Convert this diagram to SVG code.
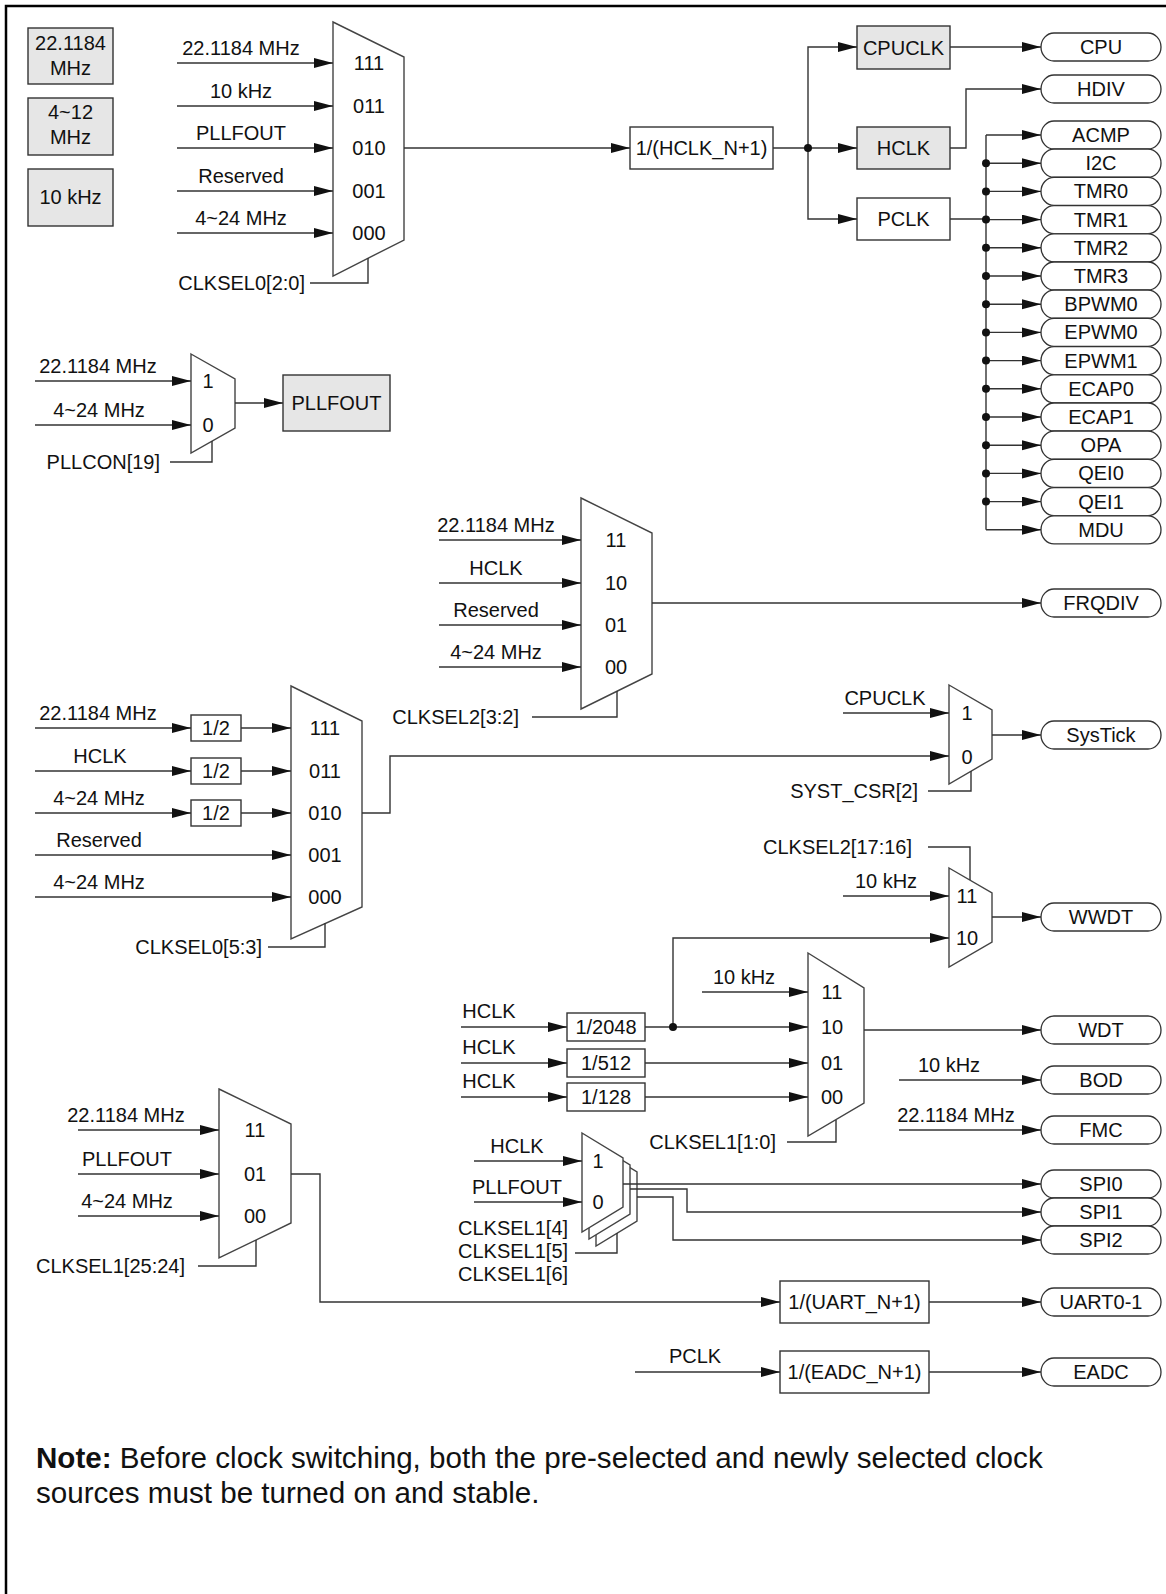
<svg xmlns="http://www.w3.org/2000/svg" width="1166" height="1594" viewBox="0 0 1166 1594">
<style>
.t{font-family:"Liberation Sans",Arial,sans-serif;font-size:20px;fill:#111}
.c{text-anchor:middle}
.e{text-anchor:end}
.w{fill:none;stroke:#333;stroke-width:1.4}
.a{marker-end:url(#arr)}
.box{fill:#fff;stroke:#333;stroke-width:1.4}
.g{fill:#e6e6e6;stroke:#333;stroke-width:1.4}
.mux{fill:#fff;stroke:#444;stroke-width:1.4}
.pill{fill:#fff;stroke:#333;stroke-width:1.3}
.dot{fill:#111}
.note{font-family:"Liberation Sans",Arial,sans-serif;font-size:29.6px;fill:#111}
</style>
<defs>
<marker id="arr" markerUnits="userSpaceOnUse" markerWidth="20" markerHeight="12" refX="19" refY="5" orient="auto"><path d="M0,0 L19,5 L0,10 z" fill="#111"/></marker>
</defs>
<rect x="0" y="0" width="1166" height="1594" fill="#fff"/>
<rect x="6" y="6" width="1200" height="1700" fill="none" stroke="#000" stroke-width="2.5"/>

<!-- source boxes -->
<g id="src-22m"><rect class="g" x="28" y="28" width="85" height="56"/><text class="t c" x="70.5" y="50">22.1184</text><text class="t c" x="70.5" y="75">MHz</text></g>
<g id="src-4-12m"><rect class="g" x="28" y="98" width="85" height="57"/><text class="t c" x="70.5" y="119">4~12</text><text class="t c" x="70.5" y="144">MHz</text></g>
<g id="src-10k"><rect class="g" x="28" y="169" width="85" height="57"/><text class="t c" x="70.5" y="204">10 kHz</text></g>

<!-- mux CLKSEL0[2:0] -->
<g id="mux-hclk"><path class="mux" d="M333 22L404 57V240L333 276Z"/>
<text class="t c" x="369" y="70">111</text><text class="t c" x="369" y="113">011</text><text class="t c" x="369" y="155">010</text><text class="t c" x="369" y="198">001</text><text class="t c" x="369" y="240">000</text>
<text class="t c" x="241" y="55">22.1184 MHz</text><text class="t c" x="241" y="98">10 kHz</text><text class="t c" x="241" y="140">PLLFOUT</text><text class="t c" x="241" y="183">Reserved</text><text class="t c" x="241" y="225">4~24 MHz</text>
<text class="t e" x="305" y="290">CLKSEL0[2:0]</text></g>

<g id="div-hclk"><rect class="box" x="630" y="127" width="143" height="42"/><text class="t c" x="701.5" y="155">1/(HCLK_N+1)</text></g>
<g id="cpuclk"><rect class="g" x="857" y="26" width="93" height="43"/><text class="t c" x="903.5" y="55">CPUCLK</text></g>
<g id="hclk"><rect class="g" x="857" y="127" width="93" height="42"/><text class="t c" x="903.5" y="155">HCLK</text></g>
<g id="pclk"><rect class="box" x="857" y="198" width="93" height="42"/><text class="t c" x="903.5" y="226">PCLK</text></g>

<!-- pills -->
<g id="p-cpu"><rect class="pill" x="1041" y="33" width="120" height="28" rx="13" ry="14"/><text class="t c" x="1101" y="54">CPU</text></g>
<g id="p-hdiv"><rect class="pill" x="1041" y="75" width="120" height="28" rx="13" ry="14"/><text class="t c" x="1101" y="96">HDIV</text></g>
<g id="p-acmp"><rect class="pill" x="1041" y="121" width="120" height="28" rx="13" ry="14"/><text class="t c" x="1101" y="142">ACMP</text></g>
<g id="p-i2c"><rect class="pill" x="1041" y="149.2" width="120" height="28" rx="13" ry="14"/><text class="t c" x="1101" y="170.2">I2C</text></g>
<g id="p-tmr0"><rect class="pill" x="1041" y="177.4" width="120" height="28" rx="13" ry="14"/><text class="t c" x="1101" y="198.4">TMR0</text></g>
<g id="p-tmr1"><rect class="pill" x="1041" y="205.6" width="120" height="28" rx="13" ry="14"/><text class="t c" x="1101" y="226.6">TMR1</text></g>
<g id="p-tmr2"><rect class="pill" x="1041" y="233.8" width="120" height="28" rx="13" ry="14"/><text class="t c" x="1101" y="254.8">TMR2</text></g>
<g id="p-tmr3"><rect class="pill" x="1041" y="262" width="120" height="28" rx="13" ry="14"/><text class="t c" x="1101" y="283">TMR3</text></g>
<g id="p-bpwm0"><rect class="pill" x="1041" y="290.2" width="120" height="28" rx="13" ry="14"/><text class="t c" x="1101" y="311.2">BPWM0</text></g>
<g id="p-epwm0"><rect class="pill" x="1041" y="318.4" width="120" height="28" rx="13" ry="14"/><text class="t c" x="1101" y="339.4">EPWM0</text></g>
<g id="p-epwm1"><rect class="pill" x="1041" y="346.6" width="120" height="28" rx="13" ry="14"/><text class="t c" x="1101" y="367.6">EPWM1</text></g>
<g id="p-ecap0"><rect class="pill" x="1041" y="374.8" width="120" height="28" rx="13" ry="14"/><text class="t c" x="1101" y="395.8">ECAP0</text></g>
<g id="p-ecap1"><rect class="pill" x="1041" y="403" width="120" height="28" rx="13" ry="14"/><text class="t c" x="1101" y="424">ECAP1</text></g>
<g id="p-opa"><rect class="pill" x="1041" y="431.2" width="120" height="28" rx="13" ry="14"/><text class="t c" x="1101" y="452.2">OPA</text></g>
<g id="p-qei0"><rect class="pill" x="1041" y="459.4" width="120" height="28" rx="13" ry="14"/><text class="t c" x="1101" y="480.4">QEI0</text></g>
<g id="p-qei1"><rect class="pill" x="1041" y="487.6" width="120" height="28" rx="13" ry="14"/><text class="t c" x="1101" y="508.6">QEI1</text></g>
<g id="p-mdu"><rect class="pill" x="1041" y="515.8" width="120" height="28" rx="13" ry="14"/><text class="t c" x="1101" y="536.8">MDU</text></g>
<g id="p-frqdiv"><rect class="pill" x="1041" y="589" width="120" height="28" rx="13" ry="14"/><text class="t c" x="1101" y="610">FRQDIV</text></g>
<g id="p-systick"><rect class="pill" x="1041" y="721" width="120" height="28" rx="13" ry="14"/><text class="t c" x="1101" y="742">SysTick</text></g>
<g id="p-wwdt"><rect class="pill" x="1041" y="903" width="120" height="28" rx="13" ry="14"/><text class="t c" x="1101" y="924">WWDT</text></g>
<g id="p-wdt"><rect class="pill" x="1041" y="1016" width="120" height="28" rx="13" ry="14"/><text class="t c" x="1101" y="1037">WDT</text></g>
<g id="p-bod"><rect class="pill" x="1041" y="1066" width="120" height="28" rx="13" ry="14"/><text class="t c" x="1101" y="1087">BOD</text></g>
<g id="p-fmc"><rect class="pill" x="1041" y="1116" width="120" height="28" rx="13" ry="14"/><text class="t c" x="1101" y="1137">FMC</text></g>
<g id="p-spi0"><rect class="pill" x="1041" y="1170" width="120" height="28" rx="13" ry="14"/><text class="t c" x="1101" y="1191">SPI0</text></g>
<g id="p-spi1"><rect class="pill" x="1041" y="1198" width="120" height="28" rx="13" ry="14"/><text class="t c" x="1101" y="1219">SPI1</text></g>
<g id="p-spi2"><rect class="pill" x="1041" y="1226" width="120" height="28" rx="13" ry="14"/><text class="t c" x="1101" y="1247">SPI2</text></g>
<g id="p-uart"><rect class="pill" x="1041" y="1288" width="120" height="28" rx="13" ry="14"/><text class="t c" x="1101" y="1309">UART0-1</text></g>
<g id="p-eadc"><rect class="pill" x="1041" y="1358" width="120" height="28" rx="13" ry="14"/><text class="t c" x="1101" y="1379">EADC</text></g>

<!-- PLL mux -->
<g id="mux-pll"><path class="mux" d="M191 354L235 379V428L191 453Z"/>
<text class="t c" x="208" y="388">1</text><text class="t c" x="208" y="432">0</text>
<text class="t c" x="98" y="373">22.1184 MHz</text><text class="t c" x="99" y="417">4~24 MHz</text>
<text class="t e" x="160" y="469">PLLCON[19]</text></g>
<g id="pllfout"><rect class="g" x="283" y="375" width="107" height="56"/><text class="t c" x="336.5" y="410">PLLFOUT</text></g>

<!-- FRQDIV mux -->
<g id="mux-frqdiv"><path class="mux" d="M581 498L652 533V674L581 709Z"/>
<text class="t c" x="616" y="547">11</text><text class="t c" x="616" y="590">10</text><text class="t c" x="616" y="632">01</text><text class="t c" x="616" y="674">00</text>
<text class="t c" x="496" y="532">22.1184 MHz</text><text class="t c" x="496" y="575">HCLK</text><text class="t c" x="496" y="617">Reserved</text><text class="t c" x="496" y="659">4~24 MHz</text>
<text class="t e" x="519" y="724">CLKSEL2[3:2]</text></g>

<!-- SysTick source mux -->
<g id="mux-stclk"><path class="mux" d="M291 686L362 721V907L291 939Z"/>
<text class="t c" x="325" y="735">111</text><text class="t c" x="325" y="778">011</text><text class="t c" x="325" y="820">010</text><text class="t c" x="325" y="862">001</text><text class="t c" x="325" y="904">000</text>
<text class="t c" x="98" y="720">22.1184 MHz</text><text class="t c" x="100" y="763">HCLK</text><text class="t c" x="99" y="805">4~24 MHz</text><text class="t c" x="99" y="847">Reserved</text><text class="t c" x="99" y="889">4~24 MHz</text>
<text class="t e" x="262" y="954">CLKSEL0[5:3]</text></g>
<g id="div2a"><rect class="box" x="191" y="715" width="50" height="26"/><text class="t c" x="216" y="735">1/2</text></g>
<g id="div2b"><rect class="box" x="191" y="758" width="50" height="26"/><text class="t c" x="216" y="778">1/2</text></g>
<g id="div2c"><rect class="box" x="191" y="800" width="50" height="26"/><text class="t c" x="216" y="820">1/2</text></g>

<g id="mux-systick"><path class="mux" d="M949 685L992 710V759L949 784Z"/>
<text class="t c" x="967" y="720">1</text><text class="t c" x="967" y="764">0</text>
<text class="t c" x="885" y="705">CPUCLK</text>
<text class="t e" x="918" y="798">SYST_CSR[2]</text></g>

<g id="mux-wwdt"><path class="mux" d="M949 868L992 893V942L949 967Z"/>
<text class="t c" x="967" y="903">11</text><text class="t c" x="967" y="945">10</text>
<text class="t c" x="886" y="888">10 kHz</text>
<text class="t e" x="912" y="854">CLKSEL2[17:16]</text></g>

<g id="mux-wdt"><path class="mux" d="M808 953L864 988V1103L808 1136Z"/>
<text class="t c" x="832" y="999">11</text><text class="t c" x="832" y="1034">10</text><text class="t c" x="832" y="1070">01</text><text class="t c" x="832" y="1104">00</text>
<text class="t c" x="744" y="984">10 kHz</text>
<text class="t c" x="489" y="1018">HCLK</text><text class="t c" x="489" y="1054">HCLK</text><text class="t c" x="489" y="1088">HCLK</text>
<text class="t e" x="776" y="1149">CLKSEL1[1:0]</text></g>
<g id="div2048"><rect class="box" x="567" y="1013" width="78" height="28"/><text class="t c" x="606" y="1034">1/2048</text></g>
<g id="div512"><rect class="box" x="567" y="1049" width="78" height="28"/><text class="t c" x="606" y="1070">1/512</text></g>
<g id="div128"><rect class="box" x="567" y="1083" width="78" height="28"/><text class="t c" x="606" y="1104">1/128</text></g>

<g id="bod-fmc-labels"><text class="t c" x="949" y="1072">10 kHz</text><text class="t c" x="956" y="1122">22.1184 MHz</text></g>

<g id="mux-spi">
<path class="mux" d="M596 1147L637 1172V1221L596 1246Z"/>
<path class="mux" d="M589 1140L630 1165V1214L589 1239Z"/>
<path class="mux" d="M582 1133L623 1158V1207L582 1232Z"/>
<text class="t c" x="598" y="1168">1</text><text class="t c" x="598" y="1209">0</text>
<text class="t c" x="517" y="1153">HCLK</text><text class="t c" x="517" y="1194">PLLFOUT</text>
<text class="t" x="458" y="1235">CLKSEL1[4]</text><text class="t" x="458" y="1258">CLKSEL1[5]</text><text class="t" x="458" y="1281">CLKSEL1[6]</text></g>

<g id="mux-uart"><path class="mux" d="M219 1089L291 1124V1223L219 1258Z"/>
<text class="t c" x="255" y="1137">11</text><text class="t c" x="255" y="1181">01</text><text class="t c" x="255" y="1223">00</text>
<text class="t c" x="126" y="1122">22.1184 MHz</text><text class="t c" x="127" y="1166">PLLFOUT</text><text class="t c" x="127" y="1208">4~24 MHz</text>
<text class="t e" x="185" y="1273">CLKSEL1[25:24]</text></g>
<g id="div-uart"><rect class="box" x="780" y="1281" width="149" height="42"/><text class="t c" x="854.5" y="1309">1/(UART_N+1)</text></g>
<g id="div-eadc"><rect class="box" x="780" y="1351" width="149" height="42"/><text class="t c" x="854.5" y="1379">1/(EADC_N+1)</text><text class="t c" x="695" y="1363">PCLK</text></g>

<!-- connectors -->
<g id="connectors">
<path class="w a" d="M177 63H333"/><path class="w a" d="M177 106H333"/><path class="w a" d="M177 148H333"/><path class="w a" d="M177 191H333"/><path class="w a" d="M177 233H333"/>
<path class="w" d="M310 283H368V258"/>
<path class="w a" d="M404 148H630"/>
<path class="w" d="M773 148H808"/>
<path class="w a" d="M808 148V47H857"/><path class="w a" d="M808 148H857"/><path class="w a" d="M808 148V219H857"/>
<path class="w a" d="M950 47H1041"/>
<path class="w a" d="M950 148H966V89H1041"/>
<path class="w" d="M950 219H986"/>
<path class="w" d="M986 135V529.8"/>
<path class="w a" d="M986 135H1041"/><path class="w a" d="M986 163.2H1041"/><path class="w a" d="M986 191.4H1041"/><path class="w a" d="M986 219.6H1041"/><path class="w a" d="M986 247.8H1041"/><path class="w a" d="M986 276H1041"/><path class="w a" d="M986 304.2H1041"/><path class="w a" d="M986 332.4H1041"/><path class="w a" d="M986 360.6H1041"/><path class="w a" d="M986 388.8H1041"/><path class="w a" d="M986 417H1041"/><path class="w a" d="M986 445.2H1041"/><path class="w a" d="M986 473.4H1041"/><path class="w a" d="M986 501.6H1041"/><path class="w a" d="M986 529.8H1041"/>
<circle class="dot" cx="808" cy="148" r="4"/>
<circle class="dot" cx="986" cy="163.2" r="4"/><circle class="dot" cx="986" cy="191.4" r="4"/><circle class="dot" cx="986" cy="219.6" r="4"/><circle class="dot" cx="986" cy="247.8" r="4"/><circle class="dot" cx="986" cy="276" r="4"/><circle class="dot" cx="986" cy="304.2" r="4"/><circle class="dot" cx="986" cy="332.4" r="4"/><circle class="dot" cx="986" cy="360.6" r="4"/><circle class="dot" cx="986" cy="388.8" r="4"/><circle class="dot" cx="986" cy="417" r="4"/><circle class="dot" cx="986" cy="445.2" r="4"/><circle class="dot" cx="986" cy="473.4" r="4"/><circle class="dot" cx="986" cy="501.6" r="4"/>

<path class="w a" d="M35 381H191"/><path class="w a" d="M35 425H191"/>
<path class="w a" d="M235 403H283"/>
<path class="w" d="M170 462H212V441"/>

<path class="w a" d="M439 540H581"/><path class="w a" d="M439 583H581"/><path class="w a" d="M439 625H581"/><path class="w a" d="M439 667H581"/>
<path class="w a" d="M652 603H1041"/>
<path class="w" d="M532 717H617V691"/>

<path class="w a" d="M35 728H191"/><path class="w a" d="M241 728H291"/>
<path class="w a" d="M35 771H191"/><path class="w a" d="M241 771H291"/>
<path class="w a" d="M35 813H191"/><path class="w a" d="M241 813H291"/>
<path class="w a" d="M35 855H291"/><path class="w a" d="M35 897H291"/>
<path class="w a" d="M362 813H390V756H949"/>
<path class="w" d="M268 947H325V923"/>

<path class="w a" d="M843 713H949"/>
<path class="w a" d="M992 735H1041"/>
<path class="w" d="M928 791H971V771"/>

<path class="w a" d="M843 896H949"/>
<path class="w a" d="M673 1027V938H949"/>
<path class="w a" d="M992 917H1041"/>
<path class="w" d="M928 847H970V880"/>

<path class="w a" d="M702 992H808"/>
<path class="w a" d="M461 1027H567"/><path class="w a" d="M645 1027H808"/>
<path class="w a" d="M461 1063H567"/><path class="w a" d="M645 1063H808"/>
<path class="w a" d="M461 1097H567"/><path class="w a" d="M645 1097H808"/>
<circle class="dot" cx="673" cy="1027" r="4"/>
<path class="w a" d="M864 1030H1041"/>
<path class="w" d="M787 1142H836V1120"/>

<path class="w a" d="M899 1080H1041"/>
<path class="w a" d="M899 1130H1041"/>

<path class="w a" d="M474 1161H582"/><path class="w a" d="M474 1202H582"/>
<path class="w a" d="M623 1184H1041"/>
<path class="w a" d="M630 1189H687V1212H1041"/>
<path class="w a" d="M637 1197H673V1240H1041"/>
<path class="w" d="M575 1253H617V1233"/>

<path class="w a" d="M78 1130H219"/><path class="w a" d="M78 1174H219"/><path class="w a" d="M78 1216H219"/>
<path class="w a" d="M291 1174H320V1302H780"/>
<path class="w" d="M198 1266H256V1240"/>
<path class="w a" d="M929 1302H1041"/>
<path class="w a" d="M635 1372H780"/>
<path class="w a" d="M929 1372H1041"/>
</g>

<g id="note">
<text class="note" x="36" y="1468"><tspan font-weight="bold">Note:</tspan> Before clock switching, both the pre-selected and newly selected clock</text>
<text class="note" x="36" y="1503">sources must be turned on and stable.</text>
</g>
</svg>
